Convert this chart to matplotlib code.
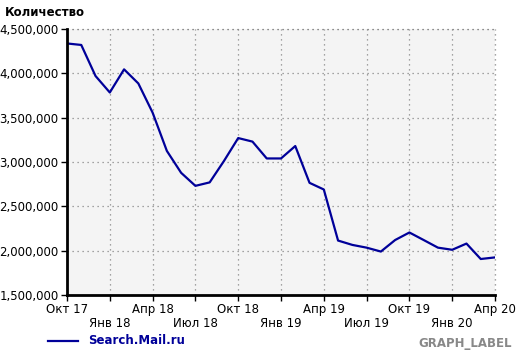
import matplotlib
matplotlib.use("Agg")
import matplotlib.pyplot as plt
from matplotlib.ticker import FuncFormatter, FixedLocator
from matplotlib.lines import Line2D

months = ["Окт 17", "Ноя 17", "Дек 17", "Янв 18", "Фев 18", "Мар 18", "Апр 18", "Май 18",
          "Июн 18", "Июл 18", "Авг 18", "Сен 18", "Окт 18", "Ноя 18", "Дек 18", "Янв 19",
          "Фев 19", "Мар 19", "Апр 19", "Май 19", "Июн 19", "Июл 19", "Авг 19", "Сен 19",
          "Окт 19", "Ноя 19", "Дек 19", "Янв 20", "Фев 20", "Мар 20", "Апр 20"]
values = [4337000, 4320000, 3970000, 3784000, 4045000, 3886000, 3557000, 3125000,
          2878000, 2731000, 2770000, 3011000, 3270000, 3230000, 3040000, 3040000,
          3180000, 2765000, 2690000, 2114000, 2065000, 2034000, 1990000, 2120000,
          2205000, 2120000, 2034000, 2010000, 2080000, 1906000, 1924000]
tick_labels = ["Окт 17", "Янв 18", "Апр 18", "Июл 18", "Окт 18", "Янв 19",
               "Апр 19", "Июл 19", "Окт 19", "Янв 20", "Апр 20"]
y_ticks = [1500000, 2000000, 2500000, 3000000, 3500000, 4000000, 4500000]
series_name = "Search.Mail.ru"

plt.rcParams['font.family'] = ['DejaVu Sans']
fig = plt.figure(figsize=(5.2, 3.53), dpi=100)
ax = fig.add_axes([67/520, 1-295/353, (495-67)/520, (295-29)/353])
ax.set_facecolor("#f4f4f4")

x = list(range(len(values)))
ax.plot(x, values, color="#000099", lw=1.6, solid_joinstyle="round")

ax.set_xlim(0, len(values) - 1)
ax.set_ylim(y_ticks[0], y_ticks[-1])
ax.yaxis.set_major_locator(FixedLocator(y_ticks))
ax.yaxis.set_major_formatter(FuncFormatter(lambda v, p: f"{int(v):,}"))

tick_pos = [months.index(t) for t in tick_labels]
ax.set_xticks(tick_pos)
ax.set_xticklabels([t if i % 2 == 0 else "\n" + t for i, t in enumerate(tick_labels)],
                   linespacing=1.05)

ax.grid(True, color="#888888", linestyle=(0, (1, 3)), lw=0.9)
for s in ["top", "right"]:
    ax.spines[s].set_visible(False)
for s in ["left", "bottom"]:
    ax.spines[s].set_linewidth(2)
    ax.spines[s].set_color("black")
ax.tick_params(axis="both", direction="out", length=4, width=1, colors="black",
               labelsize=8.5, pad=2)
# top and right dotted border
ax.axhline(y_ticks[-1], color="#888888", linestyle=(0, (1, 3)), lw=0.9, clip_on=False)
ax.axvline(len(values) - 1, color="#888888", linestyle=(0, (1, 3)), lw=0.9, clip_on=False)

fig.text(5/520, 1-12/353, "Количество", fontsize=8.5, fontweight="bold", va="center", ha="left")

fig.lines.append(Line2D([48/520, 78/520], [1-341/353, 1-341/353], color="#000099", lw=1.6,
                        transform=fig.transFigure))
fig.text(88/520, 1-341/353, series_name, fontsize=8.5, fontweight="bold", color="#000099",
         va="center", ha="left")
fig.text(512/520, 1-343/353, "GRAPH_LABEL", fontsize=8.5, fontweight="bold", color="#888888",
         va="center", ha="right")

fig.savefig("out.png", dpi=100)
